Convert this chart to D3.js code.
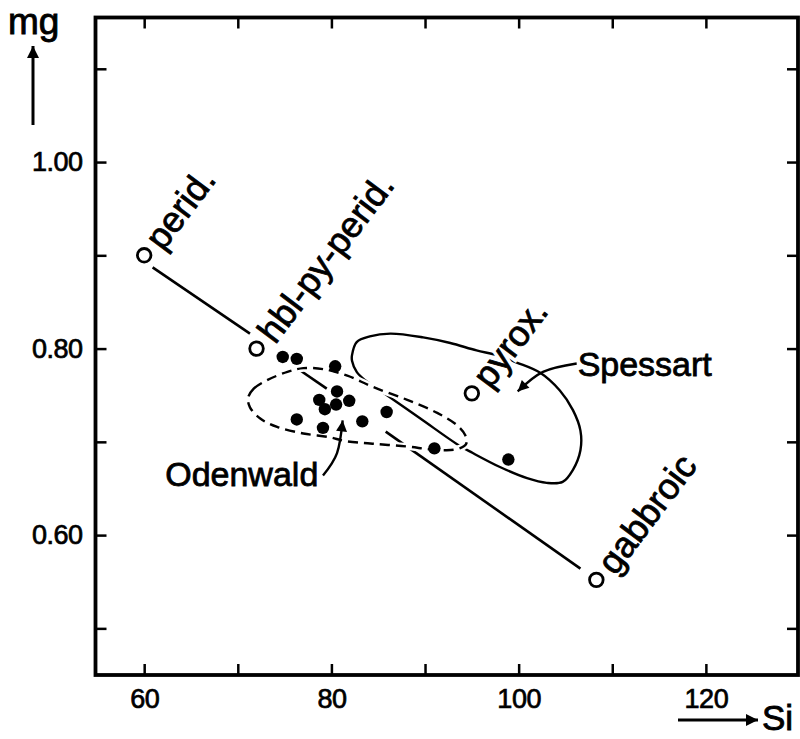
<!DOCTYPE html>
<html>
<head>
<meta charset="utf-8">
<script src="https://cdn.jsdelivr.net/npm/d3@7"></script>
<style>
    body { margin: 0; background: #fff; }
    text { font-family: "Liberation Sans", Arial, Helvetica, sans-serif; fill: #000; }
</style>
</head>
<body>
<svg id="chart" width="800" height="739"></svg>
<script>
// end-member compositions (open circles)
const endNames = ["perid.", "hbl-py-perid.", "pyrox.", "gabbroic"];
const endSi = [60, 72, 95, 108.3];
const endMg = [0.90, 0.80, 0.752, 0.552];

// Odenwald samples (filled dots)
const sampleSi = [74.8, 76.3, 80.4, 80.6, 78.7, 81.9, 80.5, 79.3, 76.3, 83.3, 79.1, 85.9, 91.0, 98.9];
const sampleMg = [0.791, 0.789, 0.781, 0.754, 0.745, 0.744, 0.740, 0.735, 0.724, 0.722, 0.715, 0.732, 0.693, 0.681];

// mixing line pieces: si1, mg1, si2, mg2
const mixLines = [
    [60.9, 0.887, 71.3, 0.816],
    [76.6, 0.777, 79.5, 0.757],
    [85.8, 0.711, 106.6, 0.564]
];

// Odenwald field (dashed)
const odenwaldSi = [71.1, 71.7, 73.1, 75.3, 77.0, 79.1, 81.7, 84.4, 88.1, 91.3, 93.4, 94.3, 94.4, 93.7, 92.3, 90.5, 88.1, 84.4, 81.4, 79.8, 77.0, 74.2, 72.4, 71.3];
const odenwaldMg = [0.747, 0.757, 0.766, 0.775, 0.779, 0.778, 0.771, 0.759, 0.745, 0.731, 0.718, 0.707, 0.698, 0.693, 0.691, 0.692, 0.695, 0.698, 0.701, 0.705, 0.709, 0.716, 0.725, 0.737];

// Spessart field (solid)
const spessartSi = [82.2, 82.7, 84.1, 86.3, 89.8, 92.7, 95.5, 97.7, 99.8, 102.3, 104.4, 105.8, 106.6, 106.6, 105.8, 104.7, 103.0, 100.9, 98.0, 95.1, 93.5, 89.5, 85.2, 83.6, 82.7, 82.2];
const spessartMg = [0.793, 0.807, 0.813, 0.816, 0.812, 0.806, 0.798, 0.793, 0.785, 0.774, 0.755, 0.734, 0.712, 0.691, 0.670, 0.657, 0.656, 0.661, 0.673, 0.688, 0.697, 0.725, 0.755, 0.766, 0.775, 0.787];

// field labels and their pointer arrows
const fieldNames = ["Spessart", "Odenwald"];
const fieldLabelSi = [106.3, 78.6];
const fieldLabelMg = [0.771, 0.653];
const pointerSi = [[106.2, 102.6, 99.9], [79.1, 80.6, 81.2]];
const pointerMg = [[0.784, 0.775, 0.754], [0.664, 0.688, 0.723]];

const xTicks = [60, 70, 80, 90, 100, 110, 120];
const xTickLabels = ["60", "", "80", "", "100", "", "120"];
const yTicks = [0.5, 0.6, 0.7, 0.8, 0.9, 1.0, 1.1];
const yTickLabels = ["", "0.60", "", "0.80", "", "1.00", ""];

const svg = d3.select("#chart");

const x = d3.scaleLinear().domain([54.8, 129.84]).range([95.5, 798]);
const y = d3.scaleLinear().domain([0.45, 1.155]).range([675, 17.5]);

const defs = svg.append("defs");
defs.append("marker")
    .attr("id", "head")
    .attr("viewBox", "0 0 10 10")
    .attr("refX", 10).attr("refY", 5)
    .attr("markerWidth", 15).attr("markerHeight", 12)
    .attr("markerUnits", "userSpaceOnUse")
    .attr("orient", "auto")
    .append("path").attr("d", "M0,0L10,5L0,10z").attr("fill", "#000");
defs.append("marker")
    .attr("id", "smallhead")
    .attr("viewBox", "0 0 10 10")
    .attr("refX", 10).attr("refY", 5)
    .attr("markerWidth", 14).attr("markerHeight", 11)
    .attr("markerUnits", "userSpaceOnUse")
    .attr("orient", "auto")
    .append("path").attr("d", "M0,0L10,5L0,10z").attr("fill", "#000");

// axes, ticks point inward on all four sides
const tickLen = -11;
const axBottom = svg.append("g")
    .attr("transform", "translate(0," + y.range()[0] + ")")
    .call(d3.axisBottom(x).tickValues(xTicks).tickSizeInner(tickLen).tickSizeOuter(0)
        .tickPadding(14).tickFormat((d, i) => xTickLabels[i]));
const axLeft = svg.append("g")
    .attr("transform", "translate(" + x.range()[0] + ",0)")
    .call(d3.axisLeft(y).tickValues(yTicks).tickSizeInner(tickLen).tickSizeOuter(0)
        .tickPadding(13).tickFormat((d, i) => yTickLabels[i]));
const axTop = svg.append("g")
    .attr("transform", "translate(0," + y.range()[1] + ")")
    .call(d3.axisTop(x).tickValues(xTicks).tickSizeInner(tickLen).tickSizeOuter(0).tickFormat(""));
const axRight = svg.append("g")
    .attr("transform", "translate(" + x.range()[1] + ",0)")
    .call(d3.axisRight(y).tickValues(yTicks).tickSizeInner(tickLen).tickSizeOuter(0).tickFormat(""));

[axBottom, axLeft, axTop, axRight].forEach(g => {
    g.select(".domain").remove();
    g.selectAll(".tick line").attr("stroke", "#000").attr("stroke-width", 2.5);
    g.selectAll(".tick text").attr("font-size", 27).attr("fill", "#000")
        .attr("stroke", "#000").attr("stroke-width", 0.7)
        .attr("font-family", "'Liberation Sans', Arial, sans-serif")
        .attr("letter-spacing", "-0.5px");
});

svg.append("rect")
    .attr("x", x.range()[0]).attr("y", y.range()[1])
    .attr("width", x.range()[1] - x.range()[0])
    .attr("height", y.range()[0] - y.range()[1])
    .attr("fill", "none").attr("stroke", "#000").attr("stroke-width", 3.8);

// axis titles
svg.append("text").attr("x", 8).attr("y", 34).attr("font-size", 37)
    .attr("stroke", "#000").attr("stroke-width", 0.9).text("mg");
svg.append("line").attr("x1", 33).attr("y1", 125).attr("x2", 33).attr("y2", 46)
    .attr("stroke", "#000").attr("stroke-width", 3).attr("marker-end", "url(#head)");
svg.append("text").attr("x", 762).attr("y", 730).attr("font-size", 35)
    .attr("stroke", "#000").attr("stroke-width", 0.9).text("Si");
svg.append("line").attr("x1", 678).attr("y1", 720).attr("x2", 758).attr("y2", 720)
    .attr("stroke", "#000").attr("stroke-width", 3).attr("marker-end", "url(#head)");

// Spessart field
const field = d3.line().x(d => x(d[0])).y(d => y(d[1])).curve(d3.curveCatmullRomClosed.alpha(0.5));
svg.append("path")
    .datum(spessartSi.map((s, i) => [s, spessartMg[i]]))
    .attr("d", field)
    .attr("fill", "none").attr("stroke", "#000").attr("stroke-width", 2.4);

// mixing lines
svg.selectAll(".mix")
    .data(mixLines)
    .join("line")
    .attr("x1", d => x(d[0])).attr("y1", d => y(d[1]))
    .attr("x2", d => x(d[2])).attr("y2", d => y(d[3]))
    .attr("stroke", "#000").attr("stroke-width", 2.6);

// Odenwald field, white underlay breaks lines it crosses
const odenwald = odenwaldSi.map((s, i) => [s, odenwaldMg[i]]);
svg.append("path").datum(odenwald).attr("d", field)
    .attr("fill", "none").attr("stroke", "#fff").attr("stroke-width", 7);
svg.append("path").datum(odenwald).attr("d", field)
    .attr("fill", "none").attr("stroke", "#000").attr("stroke-width", 2.4)
    .attr("stroke-dasharray", "10,6");

// pointer arrows
const pointer = d3.line().x(d => x(d[0])).y(d => y(d[1])).curve(d3.curveNatural);
pointerSi.forEach((arr, k) => {
    svg.append("path")
        .datum(arr.map((s, i) => [s, pointerMg[k][i]]))
        .attr("d", pointer)
        .attr("fill", "none").attr("stroke", "#000").attr("stroke-width", 2.4)
        .attr("marker-end", "url(#smallhead)");
});

svg.selectAll(".fieldlabel")
    .data(fieldNames)
    .join("text")
    .attr("x", (d, i) => x(fieldLabelSi[i]))
    .attr("y", (d, i) => y(fieldLabelMg[i]))
    .attr("text-anchor", (d, i) => i === 0 ? "start" : "end")
    .attr("font-size", 34)
    .attr("stroke", "#000").attr("stroke-width", 0.8)
    .text(d => d);

// samples
svg.selectAll(".dot")
    .data(sampleSi)
    .join("circle")
    .attr("cx", d => x(d))
    .attr("cy", (d, i) => y(sampleMg[i]))
    .attr("r", 6.2)
    .attr("fill", "#000");

// end members
const ends = svg.selectAll(".end")
    .data(endNames)
    .join("g")
    .attr("transform", (d, i) => "translate(" + x(endSi[i]) + "," + y(endMg[i]) + ")");
ends.append("circle")
    .attr("r", 6.8)
    .attr("fill", "#fff").attr("stroke", "#000").attr("stroke-width", 2.8);
// white halo first, so the label cuts the field outline it sits on
ends.append("text")
    .attr("transform", "rotate(-53)")
    .attr("x", 14).attr("dy", "0.36em")
    .attr("font-size", 36)
    .attr("fill", "#fff").attr("stroke", "#fff").attr("stroke-width", 8)
    .text(d => d);
ends.append("text")
    .attr("transform", "rotate(-53)")
    .attr("x", 14).attr("dy", "0.36em")
    .attr("font-size", 36)
    .attr("stroke", "#000").attr("stroke-width", 0.8)
    .text(d => d);
</script>
</body>
</html>
